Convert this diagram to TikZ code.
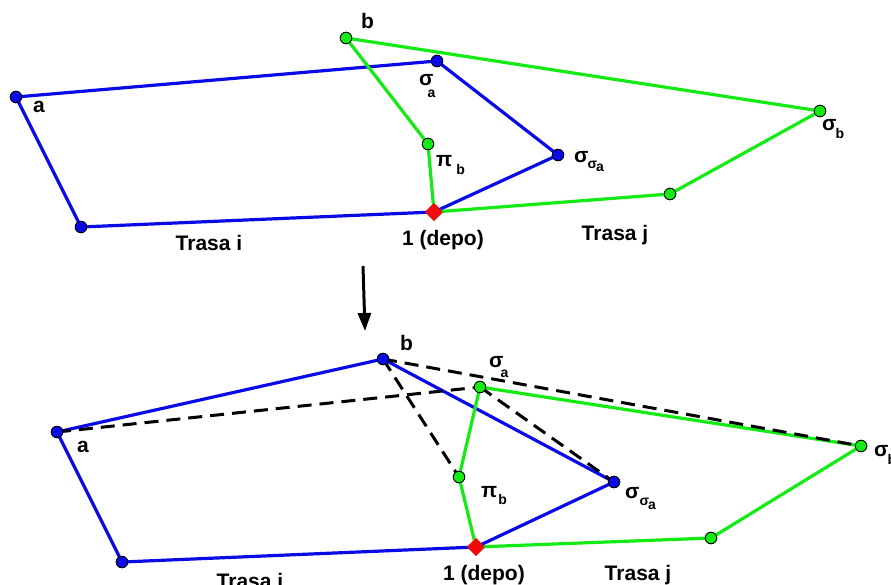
\documentclass[tikz,border=0pt]{standalone}
\usepackage{fontspec}
\setmainfont{Liberation Sans}
\usetikzlibrary{shapes.geometric,arrows.meta}
\definecolor{rblue}{RGB}{10,10,230}
\definecolor{rgreen}{RGB}{20,235,20}
\definecolor{rred}{RGB}{240,10,10}
\newcommand\subsz[1]{{\fontsize{14}{14}\selectfont #1}}
\begin{document}
\begin{tikzpicture}[x=1pt,y=-1pt,
  bline/.style={rblue,line width=3.2pt,line join=round},
  gline/.style={rgreen,line width=3.2pt,line join=round},
  dline/.style={black,line width=3pt,dash pattern=on 14pt off 8pt},
  bdot/.style={circle,draw=black,line width=0.8pt,fill=rblue,minimum size=11.5pt,inner sep=0pt},
  gdot/.style={circle,draw=black,line width=0.8pt,fill=rgreen,minimum size=11.5pt,inner sep=0pt},
  depot/.style={diamond,fill=rred,minimum size=18pt,inner sep=0pt},
  lab/.style={font=\bfseries\fontsize{21}{21}\selectfont,inner sep=0pt,anchor=base west}]
\useasboundingbox (0,0) rectangle (891,584);

% ---------- before the exchange ----------
\node[bdot]  (A1)  at (16,97) {};
\node[bdot]  (SA1) at (437,61) {};
\node[bdot]  (SS1) at (558,155) {};
\node[bdot]  (L1)  at (81,227) {};
\node[depot] (D1)  at (434,212) {};
\node[gdot]  (B1)  at (346,38) {};
\node[gdot]  (P1)  at (428,144) {};
\node[gdot]  (SB1) at (820,111) {};
\node[gdot]  (G1)  at (670,194) {};

\draw[bline] (A1.center) -- (SA1.center) -- (SS1.center) -- (D1.center) -- (L1.center) -- cycle;
\draw[gline] (B1.center) -- (SB1.center) -- (G1.center) -- (D1.center) -- (P1.center) -- cycle;
\node[bdot] at (A1) {};  \node[bdot] at (SA1) {}; \node[bdot] at (SS1) {}; \node[bdot] at (L1) {};
\node[gdot] at (B1) {};  \node[gdot] at (P1) {};  \node[gdot] at (SB1) {}; \node[gdot] at (G1) {};
\node[depot] at (D1) {};

\node[lab] (tb1)  at (361,28) {b};
\node[lab] (ta1)  at (33,112) {a};
\node[lab] (tsa1) at (419,85) {σ\kern-6pt\raisebox{-12pt}{\subsz{a}}};
\node[lab] (tp1)  at (436,166) {π\kern4pt\raisebox{-8pt}{\subsz{b}}};
\node[lab] (tss1) at (574,162) {σ\kern-1pt\raisebox{-6pt}{\subsz{σ\kern-1pt\raisebox{-3pt}{a}}}};
\node[lab] (tsb1) at (822,130) {σ\kern-1pt\raisebox{-8pt}{\subsz{b}}};
\node[lab,anchor=base] (tri1) at (209,250) {Trasa i};
\node[lab,anchor=base] (dep1) at (443,245) {1 (depo)};
\node[lab,anchor=base] (trj1) at (615,240) {Trasa j};

% ---------- arrow between the two states ----------
\coordinate (arT) at (363,266);
\coordinate (arB) at (365,331);
\draw[line width=3pt,-{Triangle[length=18pt,width=13pt]}] (arT) -- (arB);

% ---------- after the exchange ----------
\node[bdot]  (A2)  at (57,432) {};
\node[bdot]  (B2)  at (383,359) {};
\node[bdot]  (SS2) at (614,482) {};
\node[bdot]  (L2)  at (122,562) {};
\node[depot] (D2)  at (476,547) {};
\node[gdot]  (SA2) at (480,387) {};
\node[gdot]  (P2)  at (459,477) {};
\node[gdot]  (SB2) at (861,446) {};
\node[gdot]  (G2)  at (711,538) {};

\draw[bline] (A2.center) -- (B2.center) -- (SS2.center) -- (D2.center) -- (L2.center) -- cycle;
\draw[gline] (SA2.center) -- (SB2.center) -- (G2.center) -- (D2.center) -- (P2.center) -- cycle;
\draw[dline] (A2.center) -- (SA2.center);
\draw[dline] (B2.center) -- (SB2.center);
\draw[dline] (B2.center) -- (P2.center);
\draw[dline] (SA2.center) -- (SS2.center);
\node[bdot] at (A2) {};  \node[bdot] at (B2) {}; \node[bdot] at (SS2) {}; \node[bdot] at (L2) {};
\node[gdot] at (SA2) {}; \node[gdot] at (P2) {}; \node[gdot] at (SB2) {}; \node[gdot] at (G2) {};
\node[depot] at (D2) {};

\node[lab] (tb2)  at (400,350) {b};
\node[lab] (ta2)  at (77,452) {a};
\node[lab] (tsa2) at (489,367) {σ\kern-3pt\raisebox{-10pt}{\subsz{a}}};
\node[lab] (tp2)  at (481,497) {π\kern1pt\raisebox{-7pt}{\subsz{b}}};
\node[lab] (tss2) at (625,498) {σ\kern0pt\raisebox{-7pt}{\subsz{σ\kern-1pt\raisebox{-4pt}{a}}}};
\node[lab] (tsb2) at (874,456) {σ\kern-1pt\raisebox{-8pt}{\subsz{b}}};
\node[lab,anchor=base] (tri2) at (250,588) {Trasa i};
\node[lab,anchor=base] (dep2) at (484,580) {1 (depo)};
\node[lab,anchor=base] (trj2) at (638,580) {Trasa j};
\end{tikzpicture}
\end{document}
